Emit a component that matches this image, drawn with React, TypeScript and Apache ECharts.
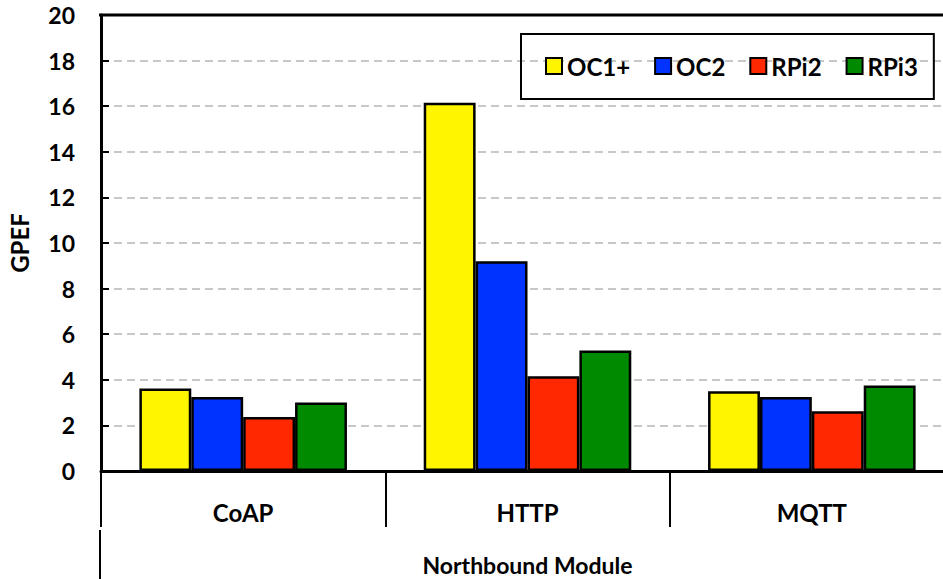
import React, { useEffect, useRef } from "react";
import * as echarts from "echarts";

const categories = ["CoAP", "HTTP", "MQTT"];
const seriesNames = ["OC1+", "OC2", "RPi2", "RPi3"];
const oc1Values = [3.62, 16.15, 3.5];
const oc2Values = [3.25, 9.2, 3.25];
const rpi2Values = [2.37, 4.16, 2.62];
const rpi3Values = [3.0, 5.28, 3.75];
const colors = ["#FFF500", "#0033FF", "#FF2800", "#008A00"];

const FONT = "Lato, 'Open Sans', sans-serif";
const W = "bold";

export default function App() {
  const ref = useRef<HTMLDivElement>(null);
  useEffect(() => {
    if (!ref.current) return;
    const chart = echarts.init(ref.current, null, { renderer: "svg" });
    const allValues = [oc1Values, oc2Values, rpi2Values, rpi3Values];
    chart.setOption({
      animation: false,
      textStyle: { fontFamily: FONT, fontWeight: W, color: "#000" },
      grid: {
        left: 101,
        top: 15,
        width: 853,
        height: 456,
        outerBoundsMode: "none",
        containLabel: false,
      },
      legend: {
        data: seriesNames,
        left: 521,
        top: 34,
        padding: [20, 16, 21, 24],
        borderColor: "#000",
        borderWidth: 2,
        itemWidth: 16,
        itemHeight: 16,
        itemGap: 24,
        icon: "rect",
        textStyle: { fontFamily: FONT, fontWeight: W, fontSize: 24, color: "#000" },
      },
      xAxis: {
        type: "category",
        data: categories,
        axisLine: { lineStyle: { color: "#000", width: 3 } },
        axisTick: { show: true, length: 56, lineStyle: { color: "#000", width: 2 } },
        axisLabel: { fontFamily: FONT, fontWeight: W, fontSize: 24, color: "#000", margin: 29 },
        name: "Northbound Module",
        nameLocation: "middle",
        nameGap: 82,
        nameTextStyle: { fontFamily: FONT, fontWeight: W, fontSize: 23, lineHeight: 23, color: "#000" },
      },
      yAxis: {
        type: "value",
        min: 0,
        max: 20,
        interval: 2,
        axisLine: { show: true, lineStyle: { color: "#000", width: 3 } },
        axisTick: { show: true, inside: true, length: 8, lineStyle: { color: "#000", width: 2 } },
        axisLabel: { fontFamily: FONT, fontWeight: W, fontSize: 23, color: "#000", margin: 26 },
        splitLine: {
          show: true,
          showMinLine: false,
          showMaxLine: false,
          lineStyle: { color: "#C8C8C8", width: 2, type: [8, 5] },
        },
        name: "GPEF",
        nameLocation: "middle",
        nameGap: 70,
        nameTextStyle: { fontFamily: FONT, fontWeight: W, fontSize: 24, color: "#000" },
      },
      graphic: [
        {
          type: "line",
          z: 100,
          shape: { x1: 99, y1: 15, x2: 943, y2: 15 },
          style: { stroke: "#000", lineWidth: 3 },
        },
        {
          type: "line",
          shape: { x1: 100, y1: 530, x2: 100, y2: 579 },
          style: { stroke: "#000", lineWidth: 2 },
        },
      ],
      series: seriesNames.map((name, i) => ({
        name,
        type: "bar",
        data: allValues[i],
        barGap: "0%",
        barCategoryGap: "27%",
        itemStyle: { color: colors[i], borderColor: "#000", borderWidth: 2.5 },
      })),
    });
    return () => chart.dispose();
  }, []);
  return <div ref={ref} style={{ width: 943, height: 579, position: "absolute", left: 0, top: 0 }} />;
}
